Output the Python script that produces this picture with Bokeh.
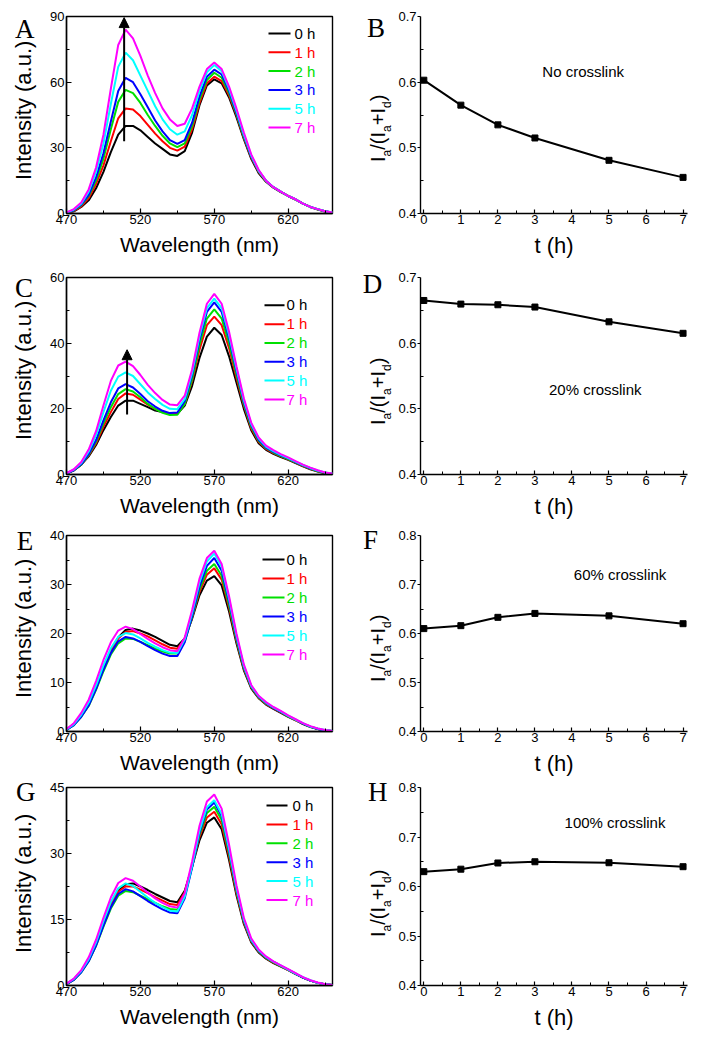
import math
from bokeh.plotting import figure
from bokeh.layouts import column, row
from bokeh.models import FixedTicker, Label, Arrow, NormalHead, Range1d, NumeralTickFormatter, Div
from bokeh.embed import file_html
from bokeh.resources import INLINE

# ---------------- data ----------------
wavelength = [470, 475, 480, 485, 490, 495, 500, 505, 510, 515, 520, 525, 530, 535, 540, 545,
              550, 555, 560, 565, 570, 575, 580, 585, 590, 595, 600, 605, 610, 615, 620, 625,
              630, 635, 640, 645, 650]
time_labels = ["0 h", "1 h", "2 h", "3 h", "5 h", "7 h"]
colors = ["#000000", "#FF0000", "#00E000", "#0000FF", "#00FFFF", "#FF00FF"]

# Panel A: no crosslink
A_0h = [0.2, 1, 3, 6, 11.5, 19, 28, 36, 40, 40, 38, 35, 32, 29.5, 27, 26.3, 28.5, 37, 49.5, 58.5, 61.3,
        59.5, 53, 44, 34, 25, 18.5, 14.5, 11.8, 9.8, 8, 6.3, 4.5, 3, 1.8, 0.9, 0.4]
A_1h = [0.2, 1.2, 3.3, 7, 13.5, 22, 33, 43.5, 48, 47.5, 44.5, 40.5, 36.5, 33, 30, 28.7, 30.5, 38.5, 50.5,
        59.5, 62.5, 60.5, 54, 45, 34.5, 25.5, 19, 14.7, 11.9, 9.9, 8, 6.4, 4.5, 3, 1.9, 0.9, 0.4]
A_2h = [0.3, 1.4, 3.8, 8, 15, 25, 38.5, 51, 56.5, 55, 50.5, 45, 40, 35.5, 32, 30.3, 32, 40, 52, 61, 64.3,
        62, 55, 45.5, 35, 26, 19.5, 14.8, 12, 10, 8, 6.4, 4.5, 3, 1.9, 1, 0.5]
A_3h = [0.3, 1.5, 4, 8.5, 16.5, 27.5, 42, 56, 62, 60, 54.5, 48.5, 42.5, 37.5, 33.5, 31.8, 33.5, 41.5,
        53.5, 62.5, 65.7, 63.5, 56, 46, 35.5, 26, 19.5, 15, 12, 10, 8, 6.5, 4.5, 3, 2, 1, 0.5]
A_5h = [0.4, 1.8, 4.5, 10, 19, 32, 50, 67, 73.5, 70, 63, 56, 49, 43, 38.5, 36, 37.5, 45, 56, 64.5, 67.8,
        65, 57, 47, 36, 26.5, 19.5, 15, 12, 10, 8, 6.5, 4.5, 3, 2, 1, 0.5]
A_7h = [0.5, 2, 5, 11, 21, 36, 57, 77, 84, 80, 72, 63, 55, 48, 43, 40, 41, 48, 58, 66, 69, 66, 58, 48,
        37, 27, 20, 15, 12, 10, 8, 6.5, 4.5, 3, 2, 1, 0.5]

# Panel C: 20% crosslink
C_0h = [0.3, 1.3, 3, 5.5, 9, 13.5, 17.5, 21, 22.5, 22.5, 21.5, 20.5, 19.5, 19, 18.5, 18.5, 21, 27, 35.5,
        42, 44.7, 42.5, 36, 28, 20, 13.5, 9.5, 7.5, 6.3, 5.3, 4.5, 3.5, 2.5, 1.6, 0.9, 0.4, 0.2]
C_1h = [0.3, 1.3, 3, 5.8, 9.5, 14.5, 19, 23, 24.7, 24.3, 22.8, 21.3, 20, 19, 18.4, 18.5, 21.5, 28.5, 38,
        45.5, 48.1, 45.5, 38.5, 29.5, 21, 14, 10, 7.8, 6.5, 5.5, 4.6, 3.6, 2.6, 1.7, 1, 0.5, 0.2]
C_2h = [0.3, 1.3, 3, 6, 10, 15.5, 20.5, 24.5, 26, 25.3, 23.5, 21.5, 20, 18.8, 18.1, 18.2, 21.5, 29, 39.5,
        47.5, 50.3, 47.5, 40, 30.5, 21.5, 14.5, 10.3, 8, 6.7, 5.6, 4.7, 3.7, 2.7, 1.8, 1, 0.5, 0.2]
C_3h = [0.3, 1.3, 3.1, 6.2, 10.5, 16.5, 22, 26.2, 27.5, 26.5, 24.5, 22.3, 20.7, 19.4, 18.7, 18.9, 22.3,
        30.2, 41, 49.5, 52.4, 49.5, 41.5, 31.5, 22, 15, 10.6, 8.2, 6.9, 5.8, 4.9, 3.8, 2.8, 1.9, 1.1, 0.5, 0.2]
C_5h = [0.4, 1.5, 3.5, 7, 12, 19, 25.5, 29.8, 31.1, 30, 27.5, 25, 23, 21.2, 20, 19.9, 23, 31, 42, 50.7,
        53.6, 50.7, 42.5, 32.3, 22.6, 15.4, 11, 8.5, 7.1, 6, 5, 3.9, 2.9, 2, 1.2, 0.6, 0.3]
C_7h = [0.4, 1.6, 3.8, 7.6, 13.2, 21, 28.5, 33.2, 34.4, 33, 30.3, 27.3, 24.8, 22.7, 21.3, 21.1, 24, 32,
        43.2, 52, 55, 52, 43.5, 33, 23.2, 15.8, 11.3, 8.8, 7.4, 6.2, 5.2, 4.1, 3, 2.1, 1.3, 0.6, 0.3]

# Panel E: 60% crosslink
E_0h = [0.4, 1.5, 3.3, 5.7, 9, 13, 16.5, 19.2, 20.7, 21, 20.6, 20, 19.3, 18.5, 17.7, 17.4, 19, 23, 27.8,
        30.8, 31.7, 29.8, 24.5, 18, 12.5, 8.8, 6.8, 5.5, 4.6, 3.8, 3, 2.3, 1.5, 0.9, 0.5, 0.2, 0.1]
E_1h = [0.4, 1.5, 3.3, 5.7, 9, 13, 16.4, 19, 20.3, 20.5, 20, 19.4, 18.6, 17.8, 17.1, 16.9, 18.8, 23.3,
        28.5, 32, 33.3, 31, 25.3, 18.5, 12.8, 9, 6.9, 5.6, 4.7, 3.9, 3.1, 2.3, 1.6, 1, 0.5, 0.2, 0.1]
E_2h = [0.3, 1.3, 3, 5.2, 8.5, 12.3, 15.7, 18, 19, 18.9, 18.3, 17.6, 16.9, 16.3, 15.9, 15.9, 18.4, 23.3,
        29, 32.8, 34.2, 31.8, 25.8, 18.8, 13, 9.1, 7, 5.7, 4.8, 4, 3.1, 2.4, 1.6, 1, 0.5, 0.2, 0.1]
E_3h = [0.3, 1.3, 3, 5.3, 8.7, 12.6, 16, 18.4, 19.3, 19, 18.3, 17.4, 16.6, 15.9, 15.4, 15.4, 18.2, 23.5,
        29.6, 33.8, 35.4, 32.8, 26.5, 19.2, 13.2, 9.2, 7.1, 5.8, 4.8, 4, 3.2, 2.4, 1.6, 1, 0.5, 0.2, 0.1]
E_5h = [0.4, 1.5, 3.4, 5.9, 9.4, 13.5, 17, 19.3, 20.1, 19.8, 19, 18.1, 17.3, 16.6, 16.1, 16, 18.8, 24.2,
        30.4, 34.7, 36.3, 33.6, 27.1, 19.6, 13.4, 9.3, 7.2, 5.9, 4.9, 4.1, 3.2, 2.4, 1.7, 1, 0.6, 0.3, 0.1]
E_7h = [0.5, 1.7, 3.8, 6.5, 10.3, 14.6, 18.2, 20.6, 21.4, 20.9, 19.9, 18.9, 18, 17.2, 16.6, 16.4, 19.2,
        24.8, 31.2, 35.4, 36.9, 34.2, 27.6, 20, 13.7, 9.5, 7.3, 6, 5, 4.2, 3.3, 2.5, 1.7, 1.1, 0.6, 0.3, 0.1]

# Panel G: 100% crosslink
G_0h = [0.3, 1.4, 3.2, 5.8, 9.5, 14, 18.2, 21.5, 23, 23.2, 22.5, 21.7, 20.8, 20, 19.2, 18.9, 21.5, 27, 33,
        37, 38.2, 35.5, 28.5, 20.5, 14, 9.8, 7.5, 6.1, 5.1, 4.3, 3.5, 2.6, 1.8, 1.1, 0.6, 0.3, 0.1]
G_1h = [0.3, 1.4, 3.2, 5.8, 9.5, 14, 18.2, 21.3, 22.5, 22.5, 21.8, 21, 20.1, 19.3, 18.5, 18.3, 21.2, 27.2,
        33.8, 38.2, 39.5, 36.6, 29.3, 21, 14.3, 10, 7.7, 6.2, 5.2, 4.4, 3.5, 2.7, 1.8, 1.1, 0.6, 0.3, 0.1]
G_2h = [0.3, 1.3, 3, 5.5, 9, 13.4, 17.5, 20.4, 21.5, 21.2, 20.4, 19.6, 18.8, 18, 17.4, 17.2, 20.4, 27, 34.3,
        39.2, 40.6, 37.6, 30, 21.5, 14.6, 10.2, 7.8, 6.3, 5.3, 4.4, 3.6, 2.7, 1.8, 1.1, 0.6, 0.3, 0.1]
G_3h = [0.3, 1.3, 3, 5.5, 9.1, 13.6, 17.8, 20.8, 21.9, 21.4, 20.3, 19.2, 18.2, 17.3, 16.6, 16.4, 19.8,
        26.8, 34.7, 40, 41.6, 38.5, 30.6, 21.9, 14.8, 10.3, 7.9, 6.4, 5.4, 4.5, 3.6, 2.7, 1.8, 1.1, 0.6, 0.3, 0.1]
G_5h = [0.4, 1.5, 3.3, 6, 9.8, 14.6, 19, 22.1, 23.2, 22.6, 21.3, 20, 18.8, 17.8, 17, 16.8, 20.2, 27.2,
        35.2, 40.5, 42.1, 39, 31, 22.2, 15, 10.4, 8, 6.5, 5.4, 4.5, 3.6, 2.7, 1.9, 1.2, 0.6, 0.3, 0.1]
G_7h = [0.4, 1.6, 3.5, 6.4, 10.4, 15.4, 20, 23.3, 24.4, 23.8, 22.5, 21.1, 19.8, 18.8, 18, 17.7, 21, 28.2,
        36.3, 41.8, 43.4, 40.2, 32, 22.8, 15.4, 10.7, 8.2, 6.6, 5.5, 4.6, 3.7, 2.8, 1.9, 1.2, 0.7, 0.3, 0.1]

# Ratio panels
t_hours = [0, 1, 2, 3, 5, 7]
B_ratio = [0.603, 0.565, 0.535, 0.515, 0.481, 0.455]
D_ratio = [0.665, 0.6595, 0.6585, 0.655, 0.6325, 0.615]
F_ratio = [0.610, 0.616, 0.633, 0.641, 0.636, 0.620]
H_ratio = [0.630, 0.635, 0.6475, 0.650, 0.648, 0.640]

# ---------------- styling / layout ----------------
SANS = "Liberation Sans"
SERIF = "Liberation Serif"
STRIP_L, SPEC_W, STRIP_R, RATIO_W = 44, 316, 34, 320


def base_axes(p):
    for ax in p.axis:
        ax.axis_line_width = 1.4
        ax.major_tick_line_width = 1.2
        ax.minor_tick_line_width = 1.0
        ax.major_label_text_font = SANS
        ax.major_label_text_font_size = "13px"
        ax.major_label_text_color = "black"
        ax.axis_label_text_font = SANS
        ax.axis_label_text_font_style = "normal"
        ax.axis_label_text_color = "black"
    p.grid.visible = False


def html_letter(ch, left, baseline):
    top = baseline - 0.8375 * 27
    return (f'<div style="position:absolute;left:{left:.1f}px;top:{top:.1f}px;'
            f"font-family:'{SERIF}';font-size:27px;line-height:27px;color:#000;"
            f'white-space:nowrap;">{ch}</div>')


def html_vertical(inner, baseline_x, start_y, size):
    left = baseline_x - 0.8465 * size
    return (f'<div style="position:absolute;left:{left:.1f}px;top:{start_y:.1f}px;'
            f'transform:rotate(-90deg);transform-origin:0 0;'
            f"font-family:'{SANS}';font-size:{size}px;line-height:{size}px;color:#000;"
            f'white-space:nowrap;">{inner}</div>')


def strip_div(width, height, parts):
    inner = "".join(parts)
    return Div(text=f'<div style="position:relative;width:{width}px;height:{height}px;">{inner}</div>',
               width=width, height=height, margin=0)


def sub(ch):
    return f'<span style="font-size:12px;line-height:0;position:relative;top:6px;">{ch}</span>'


RATIO_LABEL = f"I{sub('a')}/(I{sub('a')}+I{sub('d')})"


def left_strip(height, tag, lab_start):
    return strip_div(STRIP_L, height, [html_letter(tag[0], tag[1], tag[2]),
                                       html_vertical("Intensity (a.u.)", 32, lab_start, 22)])


def right_strip(height, tag, lab_start):
    return strip_div(STRIP_R, height, [html_letter(tag[0], tag[1], tag[2]),
                                       html_vertical(RATIO_LABEL, 25, lab_start, 20)])


def spectra_panel(series, ymax, ystep, height, top, frame_h, leg, arrow=None,
                  left=22, frame_w=266):
    right = SPEC_W - left - frame_w
    bottom = height - top - frame_h
    p = figure(width=SPEC_W, height=height, x_range=Range1d(470, 650), y_range=Range1d(0, ymax),
               output_backend="svg", toolbar_location=None, min_border_left=left,
               min_border_right=right, min_border_top=top, min_border_bottom=bottom)
    for ys, c in zip(series, colors):
        p.line(wavelength, ys, color=c, line_width=2)
    base_axes(p)
    p.outline_line_color = "black"
    p.outline_line_width = 1.4
    p.xaxis.ticker = FixedTicker(ticks=[470, 520, 570, 620], minor_ticks=[495, 545, 595, 645])
    p.yaxis.ticker = FixedTicker(ticks=list(range(0, ymax + 1, ystep)),
                                 minor_ticks=[v + ystep / 2 for v in range(0, ymax, ystep)])
    for ax in p.axis:
        ax.major_tick_in = 5
        ax.major_tick_out = 0
        ax.minor_tick_in = 3
        ax.minor_tick_out = 0
    p.xaxis.major_label_standoff = 1
    p.yaxis.major_label_standoff = 2
    p.xaxis.axis_label = "Wavelength (nm)"
    p.xaxis.axis_label_text_font_size = "21px"
    p.xaxis.axis_label_standoff = 6
    # legend (screen offsets within the frame)
    lx0, lx1, tx, y0, dy = leg
    kx = 180.0 / frame_w
    ky = ymax / float(frame_h)
    for i, (lab, c) in enumerate(zip(time_labels, colors)):
        sy = y0 - i * dy
        p.segment(x0=[470 + lx0 * kx], y0=[sy * ky], x1=[470 + lx1 * kx], y1=[sy * ky],
                  color=c, line_width=2)
        p.add_layout(Label(x=tx, y=sy, x_units="screen", y_units="screen", text=lab,
                           text_font=SANS, text_font_size="15px", text_color=c,
                           text_align="left", text_baseline="middle"))
    if arrow is not None:
        ax_, ys_, ye_ = arrow
        p.add_layout(Arrow(x_start=ax_, y_start=ys_, x_end=ax_, y_end=ye_, line_width=2,
                           line_color="black",
                           end=NormalHead(size=10, fill_color="black", line_color="black")))
    return p


def ratio_panel(ratio, ymax, note, height, top, frame_h, left=26, frame_w=267):
    right = RATIO_W - left - frame_w
    bottom = height - top - frame_h
    p = figure(width=RATIO_W, height=height, x_range=Range1d(-0.09, 7.12),
               y_range=Range1d(0.4, ymax), output_backend="svg", toolbar_location=None,
               min_border_left=left, min_border_right=right, min_border_top=top,
               min_border_bottom=bottom)
    p.line(t_hours, ratio, color="black", line_width=2)
    p.scatter(t_hours, ratio, marker="square", size=6, color="black")
    base_axes(p)
    p.outline_line_color = None
    p.xaxis.ticker = FixedTicker(ticks=[0, 1, 2, 3, 4, 5, 6, 7],
                                 minor_ticks=[0.5, 1.5, 2.5, 3.5, 4.5, 5.5, 6.5])
    nmaj = int(round((ymax - 0.4) / 0.1))
    p.yaxis.ticker = FixedTicker(ticks=[round(0.4 + 0.1 * i, 2) for i in range(nmaj + 1)],
                                 minor_ticks=[round(0.45 + 0.1 * i, 3) for i in range(nmaj)])
    p.yaxis.formatter = NumeralTickFormatter(format="0.0")
    p.xaxis.major_tick_in = 4
    p.xaxis.major_tick_out = 0
    p.xaxis.minor_tick_in = 3
    p.xaxis.minor_tick_out = 0
    p.yaxis.major_tick_in = 0
    p.yaxis.major_tick_out = 3
    p.yaxis.minor_tick_in = 3
    p.yaxis.minor_tick_out = 0
    p.xaxis.major_label_standoff = 1
    p.yaxis.major_label_standoff = 1
    p.xaxis.axis_label = "t (h)"
    p.xaxis.axis_label_text_font_size = "22px"
    p.xaxis.axis_label_standoff = 6
    p.add_layout(Label(x=note[1], y=note[2], text=note[0], text_font=SANS,
                       text_font_size="15px", text_align="left", text_baseline="middle",
                       text_color="black"))
    return p


H1, H2, H3, H4 = 266, 258, 256, 260

sA = left_strip(H1, ("A", 15, 38.3), 180)
pA = spectra_panel([A_0h, A_1h, A_2h, A_3h, A_5h, A_7h], 90, 30, height=H1, top=16, frame_h=197,
                   leg=(202, 224, 228, 180, 18.8), arrow=(509, 33, 89.5))
sB = right_strip(H1, ("B", 7, 37.3), 161.7)
pB = ratio_panel(B_ratio, 0.7, ("No crosslink", 3.2, 0.616), height=H1, top=16, frame_h=198)

sC = left_strip(H2, ("C", 15, 31.3), 174)
pC = spectra_panel([C_0h, C_1h, C_2h, C_3h, C_5h, C_7h], 60, 20, height=H2, top=10, frame_h=198,
                   leg=(198, 218, 220, 170, 18.9), arrow=(511, 18.3, 38))
sD = right_strip(H2, ("D", 2.7, 27.3), 159)
pD = ratio_panel(D_ratio, 0.7, ("20% crosslink", 3.38, 0.53), height=H2, top=11, frame_h=199)

sE = left_strip(H3, ("E", 16.7, 26.7), 174)
pE = spectra_panel([E_0h, E_1h, E_2h, E_3h, E_5h, E_7h], 40, 10, height=H3, top=11, frame_h=196,
                   leg=(196, 218, 220, 172, 19))
sF = right_strip(H3, ("F", 3, 26), 157.7)
pF = ratio_panel(F_ratio, 0.8, ("60% crosslink", 4.05, 0.721), height=H3, top=10, frame_h=198)

sG = left_strip(H4, ("G", 16, 22), 173)
pG = spectra_panel([G_0h, G_1h, G_2h, G_3h, G_5h, G_7h], 45, 15, height=H4, top=7, frame_h=198,
                   leg=(200, 221, 226, 180, 18.9))
sH = right_strip(H4, ("H", 8, 21.7), 156.7)
pH = ratio_panel(H_ratio, 0.8, ("100% crosslink", 3.80, 0.729), height=H4, top=7, frame_h=199)

layout = column(row(sA, pA, sB, pB), row(sC, pC, sD, pD), row(sE, pE, sF, pF),
                row(sG, pG, sH, pH))
open("out.html", "w").write(file_html(layout, INLINE))
